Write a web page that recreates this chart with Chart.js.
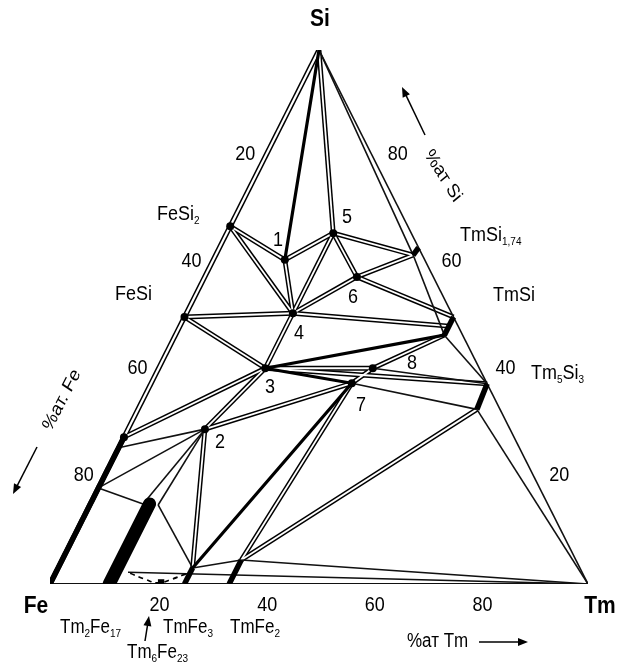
<!DOCTYPE html>
<html>
<head>
<meta charset="utf-8">
<script src="https://cdn.jsdelivr.net/npm/chart.js@4.4.0/dist/chart.umd.min.js"></script>
<style>
  html, body { margin: 0; padding: 0; background: #fff; }
  #wrap { width: 618px; height: 663px; position: relative; }
</style>
</head>
<body>
<div id="wrap"><canvas id="diagram"></canvas></div>
<script>
const nodeNames = ['Fe', 'Si', 'Tm', 'FeSi2', 'FeSi', 'Fe27', 'Fe25', 'Fe18',
  'T1', 'T2', 'T3', 'T4', 'T5', 'T6', 'T7', 'T8',
  'TmSi174a', 'TmSi174b', 'TmSiA', 'TmSiM', 'TmSiB', 'Tm5Si3A', 'Tm5Si3B',
  'TmFe3', 'TmFe3B', 'TmFe2', 'TmFe2B', 'Tm2Fe17', 'Tm2Fe17B', 'Tm2Fe17L', 'Tm2Fe17R', 'Tm2Fe17S', 'Tm6Fe23'];
const nodeTm = [0, 0, 100, 0, 0, 0, 0, 0,
  13.3, 14.3, 19.8, 19.8, 19.8, 28.3, 37.3, 39.8,
  36.7, 37, 50, 50, 50, 62.5, 63,
  25, 25, 33.3, 33.3, 11, 11, 9.8, 12.7, 13.4, 20.5];
const nodeSi = [0, 100, 0, 67, 50, 27.5, 25.5, 18,
  60.7, 29, 40.4, 50.7, 65.7, 57.5, 37.6, 40.4,
  61.6, 63, 50, 48.3, 46.6, 37.5, 32.7,
  0, 3, 0, 4.5, 0, 15, 15, 14.8, 2.2, 0.3];

// tie lines drawn hollow (double stroke)
const doubleTies = [
  ['Fe', 'Si'], ['FeSi2', 'T1'], ['FeSi2', 'T4'], ['T1', 'T5'], ['T1', 'T4'], ['Si', 'T5'],
  ['T5', 'T4'], ['T5', 'T6'], ['T5', 'TmSi174a'], ['T4', 'T6'], ['T6', 'TmSi174a'],
  ['T6', 'TmSiA'], ['T4', 'TmSiM'], ['T4', 'FeSi'], ['T4', 'T3'], ['FeSi', 'T3'],
  ['T3', 'T8'], ['T8', 'TmSiB'], ['T7', 'T8'], ['T3', 'Tm5Si3A'], ['Fe27', 'T3'],
  ['T2', 'T3'], ['T2', 'T7'], ['T2', 'TmFe3B'], ['TmFe2B', 'T7'], ['TmFe2B', 'Tm5Si3B']
];
// plain thin lines
const thinTies = [
  ['Si', 'Tm'], ['Fe', 'Tm'], ['Si', 'TmSi174a'], ['TmSi174a', 'TmSiB'], ['TmSiB', 'Tm5Si3A'],
  ['Tm5Si3B', 'Tm'], ['T8', 'Tm5Si3A'], ['T7', 'Tm5Si3B'], ['Fe25', 'T2'], ['Fe18', 'T2'],
  ['Fe18', 'Tm2Fe17L'], ['Tm2Fe17L', 'T2'], ['Tm2Fe17R', 'T2'], ['Tm2Fe17R', 'TmFe3B'],
  ['TmFe3B', 'TmFe2B'], ['TmFe2B', 'Tm'], ['Tm2Fe17S', 'Tm']
];
// solid heavy lines
const boldTies = [['Si', 'T1'], ['T3', 'TmSiB'], ['T3', 'T7'], ['T7', 'TmFe3B']];
// homogeneity ranges of the binary phases
const phaseRanges = [['Fe', 'Fe27'], ['TmSi174a', 'TmSi174b'], ['TmSiA', 'TmSiB'], ['Tm5Si3A', 'Tm5Si3B'],
  ['TmFe3', 'TmFe3B'], ['TmFe2', 'TmFe2B']];
const wideRange = ['Tm2Fe17', 'Tm2Fe17B'];
const dotNodes = ['FeSi2', 'FeSi', 'Fe27', 'T1', 'T2', 'T3', 'T4', 'T5', 'T6', 'T7', 'T8'];

// dashed boundary under the Tm2Fe17 - TmFe3 line
const dashTm = [13.9, 17.2, 20, 22.2, 24.5];
const dashSi = [2.0, 0.9, 0.2, 0.9, 2.0];

// axis ticks (at.%)
const tickValues = [20, 40, 60, 80];
const nodeNumbers = ['1', '2', '3', '4', '5', '6', '7', '8'];

function pt(name) {
  const i = nodeNames.indexOf(name);
  return { x: nodeTm[i] + nodeSi[i] / 2, y: nodeSi[i] };
}

function lineSet(pair, color, width, order, extra) {
  return Object.assign({
    data: pair.map(pt),
    showLine: true,
    borderColor: color,
    borderWidth: width,
    pointRadius: 0,
    pointHoverRadius: 0,
    borderCapStyle: 'butt',
    order: order
  }, extra || {});
}

const datasets = [];
doubleTies.forEach((p, i) => {
  const w = i === 0 ? 5.2 : 4.8;
  datasets.push(lineSet(p, '#000', w, 6));
  datasets.push(lineSet(p, '#fff', w - 3, 5));
});
thinTies.forEach((p, i) => datasets.push(lineSet(p, '#111', i === 1 ? 2.2 : 1.6, 4)));
boldTies.forEach(p => datasets.push(lineSet(p, '#000', 3.2, 3, { borderCapStyle: 'round' })));
phaseRanges.forEach(p => datasets.push(lineSet(p, '#000', 5.5, 2, { clip: 0 })));
datasets.push(lineSet(wideRange, '#000', 13, 2, { clip: 0, borderCapStyle: 'round' }));
datasets.push({
  data: dashTm.map((t, i) => ({ x: t + dashSi[i] / 2, y: dashSi[i] })),
  showLine: true, borderColor: '#000', borderWidth: 1.7, borderDash: [5, 4], tension: 0.4,
  pointRadius: 0, order: 2
});
datasets.push({
  data: dotNodes.map(pt), showLine: false, pointRadius: 4, pointBackgroundColor: '#000',
  pointBorderWidth: 0, order: 1
});
datasets.push({
  data: [pt('Tm6Fe23')], showLine: false, pointStyle: 'rect', pointRadius: 4.5,
  pointBackgroundColor: '#000', pointBorderWidth: 0, order: 1
});

// ---- text ----
const STRETCH = 1.14;
const FONT = '"Liberation Sans", Arial, sans-serif';

function rich(ctx, x, y, parts, size, align, bold, angle) {
  ctx.save();
  ctx.translate(x, y);
  ctx.scale(1, STRETCH);
  if (angle) ctx.rotate(angle);
  const main = (bold ? 'bold ' : '') + size + 'px ' + FONT;
  const small = Math.round(size * 0.56) + 'px ' + FONT;
  let total = 0;
  parts.forEach(p => { ctx.font = p[1] ? small : main; total += ctx.measureText(p[0]).width; });
  let cx = align === 'center' ? -total / 2 : 0;
  ctx.textBaseline = 'middle';
  ctx.textAlign = 'left';
  ctx.fillStyle = '#000';
  parts.forEach(p => {
    ctx.font = p[1] ? small : main;
    ctx.fillText(p[0], cx, p[1] ? size * 0.32 : 0);
    cx += ctx.measureText(p[0]).width;
  });
  ctx.restore();
}

function arrow(ctx, x1, y1, x2, y2, width) {
  const a = Math.atan2(y2 - y1, x2 - x1);
  ctx.save();
  ctx.strokeStyle = '#000';
  ctx.fillStyle = '#000';
  ctx.lineWidth = width;
  ctx.beginPath();
  ctx.moveTo(x1, y1);
  ctx.lineTo(x2 - 6 * Math.cos(a), y2 - 6 * Math.sin(a));
  ctx.stroke();
  ctx.beginPath();
  ctx.moveTo(x2, y2);
  ctx.lineTo(x2 - 10 * Math.cos(a) + 4 * Math.sin(a), y2 - 10 * Math.sin(a) - 4 * Math.cos(a));
  ctx.lineTo(x2 - 10 * Math.cos(a) - 4 * Math.sin(a), y2 - 10 * Math.sin(a) + 4 * Math.cos(a));
  ctx.closePath();
  ctx.fill();
  ctx.restore();
}

const textPlugin = {
  id: 'ternaryText',
  afterDatasetsDraw(chart) {
    const ctx = chart.ctx;
    const xs = chart.scales.x, ys = chart.scales.y;
    const px = (tm, si) => [xs.getPixelForValue(tm + si / 2), ys.getPixelForValue(si)];

    // corner names
    rich(ctx, 320, 19, [['Si']], 21, 'center', true);
    rich(ctx, 36, 606, [['Fe']], 21, 'center', true);
    rich(ctx, 600, 606, [['Tm']], 21, 'center', true);

    // ticks on the three sides
    tickValues.forEach(v => {
      let p = px(v, 0);
      rich(ctx, p[0] + 2, p[1] + 21, [[String(v)]], 18, 'center');
      p = px(0, 100 - v);
      rich(ctx, p[0] - 20, p[1] - 2, [[String(v)]], 18, 'center');
      p = px(100 - v, v);
      rich(ctx, p[0] + 25, p[1] - 2, [[String(v)]], 18, 'center');
    });

    // ternary compound numbers
    const numPos = [[278, 240], [220, 442], [270, 387], [299, 333], [347, 217], [353, 297], [361, 405], [412, 363]];
    nodeNumbers.forEach((n, i) => rich(ctx, numPos[i][0], numPos[i][1], [[n]], 18, 'center'));

    // binary phases
    rich(ctx, 157, 214, [['FeSi'], ['2', 1]], 18, 'left');
    rich(ctx, 115, 294, [['FeSi']], 18, 'left');
    rich(ctx, 460, 235, [['TmSi'], ['1,74', 1]], 18, 'left');
    rich(ctx, 493, 295, [['TmSi']], 18, 'left');
    rich(ctx, 531, 373, [['Tm'], ['5', 1], ['Si'], ['3', 1]], 18, 'left');
    rich(ctx, 60, 628, [['Tm'], ['2', 1], ['Fe'], ['17', 1]], 17, 'left');
    rich(ctx, 163, 628, [['TmFe'], ['3', 1]], 17, 'left');
    rich(ctx, 230, 628, [['TmFe'], ['2', 1]], 17, 'left');
    rich(ctx, 127, 653, [['Tm'], ['6', 1], ['Fe'], ['23', 1]], 17, 'left');
    arrow(ctx, 145, 641, 149, 616, 1.5);

    // axis names
    rich(ctx, 407, 642, [['%ат Tm']], 17, 'left');
    arrow(ctx, 479, 642, 528, 642, 1.6);
    rich(ctx, 62, 400, [['%ат. Fe']], 17, 'center', false, -1.04);
    arrow(ctx, 37, 447, 13, 494, 1.5);
    rich(ctx, 443, 176, [['%ат Si']], 17, 'center', false, 0.95);
    arrow(ctx, 425, 135, 402, 87, 1.5);
  }
};

new Chart(document.getElementById('diagram'), {
  type: 'scatter',
  data: { datasets: datasets },
  options: {
    responsive: true,
    maintainAspectRatio: false,
    animation: false,
    events: [],
    layout: { padding: { left: 50, right: 30, top: 50, bottom: 79 } },
    scales: {
      x: { type: 'linear', min: 0, max: 100, display: false },
      y: { type: 'linear', min: 0, max: 100, display: false }
    },
    plugins: { legend: { display: false }, tooltip: { enabled: false } }
  },
  plugins: [textPlugin]
});
</script>
</body>
</html>
